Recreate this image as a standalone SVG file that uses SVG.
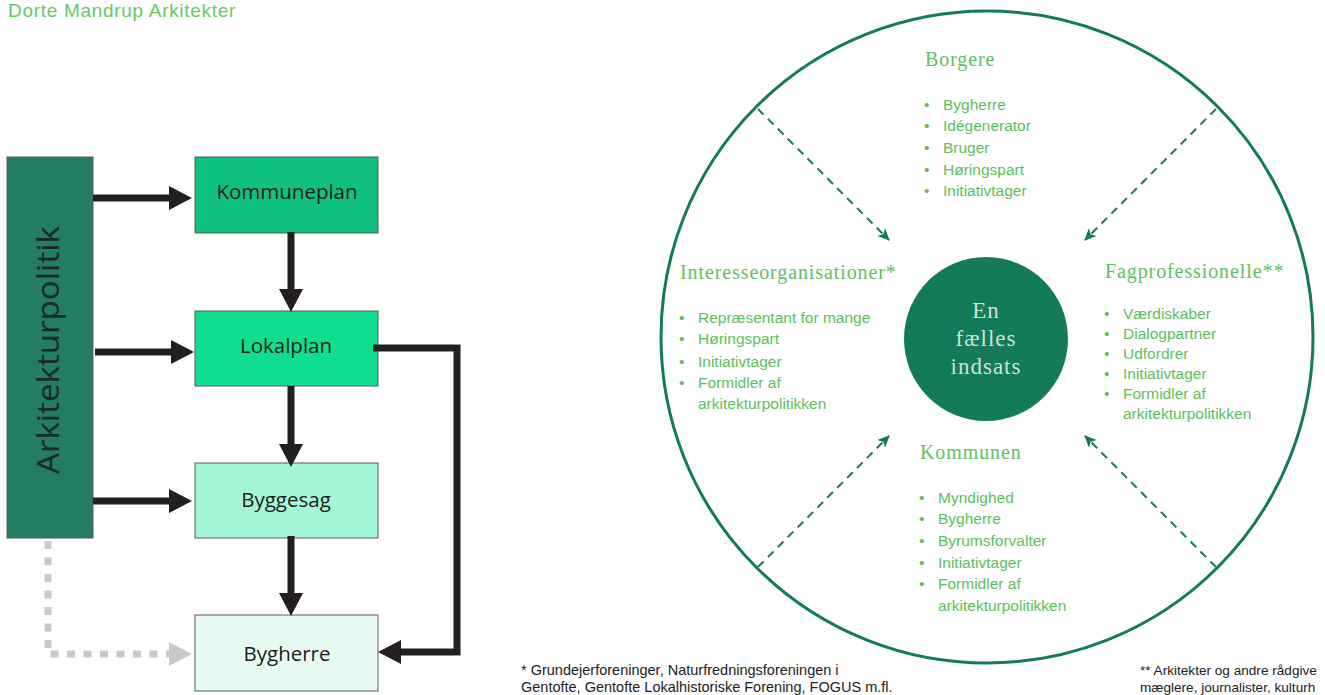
<svg xmlns="http://www.w3.org/2000/svg" width="1325" height="695" viewBox="0 0 1325 695">
<style>
.box{stroke:#5a5a5a;stroke-width:1}
.flow{font-family:"Open Sans","Liberation Sans",sans-serif;font-size:20.5px;fill:#1c1c1c;text-anchor:middle}
.arr{stroke:#231f20;stroke-width:7;fill:none}
.grey{stroke:#c9c9cb;stroke-width:7;fill:none;stroke-dasharray:8 8.5}
.head{font-family:"Liberation Serif",serif;font-size:20px;letter-spacing:0.9px;fill:#62c062}
.li{font-family:"Liberation Sans",sans-serif;font-size:15.5px;fill:#5cbf5c}
.dash{stroke:#167a58;stroke-width:2;stroke-dasharray:8 6;fill:none}
.foot{font-family:"Liberation Sans",sans-serif;font-size:14.5px;fill:#222}
.foot2{font-family:"Liberation Sans",sans-serif;font-size:13.6px;fill:#222}
.ctr{font-family:"Liberation Serif",serif;font-size:23px;letter-spacing:1px;fill:#cfe1d7;text-anchor:middle}
</style>
<defs>
<marker id="bh" markerUnits="userSpaceOnUse" markerWidth="24" markerHeight="26" refX="1" refY="12" orient="auto" overflow="visible"><path d="M0,0 L23,12 L0,24 z" fill="#231f20"/></marker>
<marker id="gh" markerUnits="userSpaceOnUse" markerWidth="24" markerHeight="26" refX="1" refY="12" orient="auto" overflow="visible"><path d="M0,0 L23,12 L0,24 z" fill="#c9c9cb"/></marker>
<marker id="dh" markerUnits="userSpaceOnUse" markerWidth="13" markerHeight="13" refX="11" refY="5.5" orient="auto" overflow="visible"><path d="M0,0 L12,5.5 L0,11 L3,5.5 z" fill="#167a58"/></marker>
</defs>
<rect width="1325" height="695" fill="#ffffff"/>
<text x="8" y="17" font-family="Liberation Sans,sans-serif" font-size="19px" letter-spacing="0.7" fill="#66c766">Dorte Mandrup Arkitekter</text>

<g id="arkitekturpolitik">
<rect class="box" x="7" y="157" width="86" height="381" fill="#237c64"/>
<text transform="translate(59,350) rotate(-90)" font-family="Open Sans,Liberation Sans,sans-serif" font-size="31px" fill="#1b2a24" text-anchor="middle" textLength="248" lengthAdjust="spacingAndGlyphs">Arkitekturpolitik</text>
</g>
<g id="kommuneplan">
<rect class="box" x="195" y="157" width="183" height="76" fill="#10c07f"/>
<text class="flow" x="287" y="199">Kommuneplan</text>
</g>
<g id="lokalplan">
<rect class="box" x="195" y="311" width="183" height="75" fill="#10de8f"/>
<text class="flow" x="286" y="353">Lokalplan</text>
</g>
<g id="byggesag">
<rect class="box" x="195" y="463" width="183" height="75" fill="#a3f7d6"/>
<text class="flow" x="286" y="507">Byggesag</text>
</g>
<g id="bygherre">
<rect class="box" x="195" y="615" width="183" height="76" fill="#e6fcf3"/>
<text class="flow" x="287" y="661">Bygherre</text>
</g>

<g id="connectors">
<line class="arr" x1="93" y1="198" x2="170" y2="198" marker-end="url(#bh)"/>
<line class="arr" x1="95" y1="352" x2="172" y2="352" marker-end="url(#bh)"/>
<line class="arr" x1="93" y1="501" x2="170" y2="501" marker-end="url(#bh)"/>
<line class="arr" x1="291" y1="232" x2="291" y2="290" marker-end="url(#bh)"/>
<line class="arr" x1="291" y1="386" x2="291" y2="445" marker-end="url(#bh)"/>
<line class="arr" x1="291" y1="536" x2="291" y2="594" marker-end="url(#bh)"/>
<polyline class="arr" points="373,348 457,348 457,652 400,652" marker-end="url(#bh)"/>
<polyline class="grey" points="48,541 48,654 170,654" marker-end="url(#gh)"/>
<line class="dash" x1="758" y1="109" x2="889" y2="240" marker-end="url(#dh)"/>
<line class="dash" x1="1216" y1="109" x2="1085" y2="240" marker-end="url(#dh)"/>
<line class="dash" x1="758" y1="567" x2="889" y2="436" marker-end="url(#dh)"/>
<line class="dash" x1="1216" y1="567" x2="1085" y2="436" marker-end="url(#dh)"/>
</g>

<g id="ring">
<circle cx="987" cy="337" r="326" fill="none" stroke="#147b59" stroke-width="3"/>
</g>
<g id="center">
<circle cx="986" cy="339" r="82" fill="#137a5a"/>
<text class="ctr" x="986" y="318">En</text>
<text class="ctr" x="986" y="346">fælles</text>
<text class="ctr" x="986" y="374">indsats</text>
</g>

<g id="borgere">
<text class="head" x="925" y="66">Borgere</text>
<g class="li">
<text x="924" y="110">•</text><text x="943" y="110">Bygherre</text>
<text x="924" y="131">•</text><text x="943" y="131">Idégenerator</text>
<text x="924" y="153">•</text><text x="943" y="153">Bruger</text>
<text x="924" y="175">•</text><text x="943" y="175">Høringspart</text>
<text x="924" y="196">•</text><text x="943" y="196">Initiativtager</text>
</g>
</g>
<g id="interesseorganisationer">
<text class="head" x="680" y="279">Interesseorganisationer*</text>
<g class="li">
<text x="679" y="323">•</text><text x="698" y="323">Repræsentant for mange</text>
<text x="679" y="344">•</text><text x="698" y="344">Høringspart</text>
<text x="679" y="367">•</text><text x="698" y="367">Initiativtager</text>
<text x="679" y="388">•</text><text x="698" y="388">Formidler af</text>
<text x="698" y="409">arkitekturpolitikken</text>
</g>
</g>
<g id="fagprofessionelle">
<text class="head" x="1105" y="278">Fagprofessionelle**</text>
<g class="li">
<text x="1104" y="319">•</text><text x="1123" y="319">Værdiskaber</text>
<text x="1104" y="339">•</text><text x="1123" y="339">Dialogpartner</text>
<text x="1104" y="359">•</text><text x="1123" y="359">Udfordrer</text>
<text x="1104" y="379">•</text><text x="1123" y="379">Initiativtager</text>
<text x="1104" y="399">•</text><text x="1123" y="399">Formidler af</text>
<text x="1123" y="419">arkitekturpolitikken</text>
</g>
</g>
<g id="kommunen">
<text class="head" x="920" y="459" font-size="21px">Kommunen</text>
<g class="li">
<text x="919" y="503">•</text><text x="938" y="503">Myndighed</text>
<text x="919" y="524">•</text><text x="938" y="524">Bygherre</text>
<text x="919" y="546">•</text><text x="938" y="546">Byrumsforvalter</text>
<text x="919" y="568">•</text><text x="938" y="568">Initiativtager</text>
<text x="919" y="589">•</text><text x="938" y="589">Formidler af</text>
<text x="938" y="611">arkitekturpolitikken</text>
</g>
</g>

<g id="footnotes">
<text class="foot" x="521" y="675">* Grundejerforeninger, Naturfredningsforeningen i</text>
<text class="foot" x="521" y="692">Gentofte, Gentofte Lokalhistoriske Forening, FOGUS m.fl.</text>
<text class="foot2" x="1140" y="675">** Arkitekter og andre rådgive</text>
<text class="foot2" x="1140" y="692">mæglere, journalister, kulturh</text>
</g>
</svg>
